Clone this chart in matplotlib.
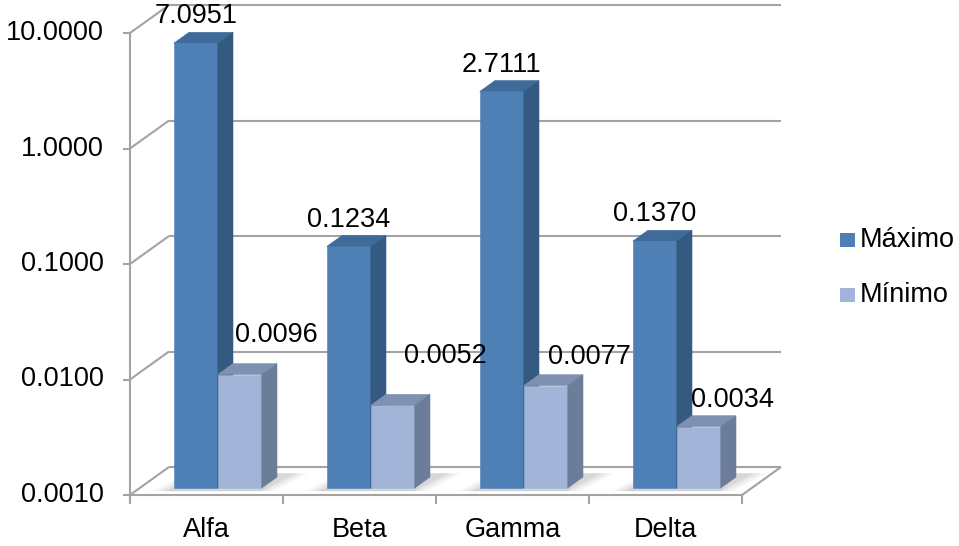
import matplotlib.pyplot as plt
import numpy as np
from matplotlib.patches import Polygon, Rectangle
from matplotlib.lines import Line2D
from matplotlib.transforms import IdentityTransform

categories = ['Alfa', 'Beta', 'Gamma', 'Delta']
maximo = [7.0951, 0.1234, 2.7111, 0.1370]
minimo = [0.0096, 0.0052, 0.0077, 0.0034]
series_names = ['Máximo', 'Mínimo']
y_ticks = [0.001, 0.01, 0.1, 1, 10]

# label nudges (pixels right, pixels above the bar top)
label_dx = [[0, 0, 0, 0], [37, 53, 44, 34]]
label_dy = [[9, 9, 9, 9], [22, 31, 11, 9]]

plt.rcParams['font.family'] = ['Liberation Sans', 'DejaVu Sans']
FS = 19.5
GRID = '#a3a3a3'
faces = [
    {'front': '#4e80b6', 'top': '#3f6b9b', 'side': '#355a82'},
    {'front': '#a2b5d9', 'top': '#7f91b1', 'side': '#6c7d9a'},
]

W, H = 959, 546
fig = plt.figure(figsize=(W / 100, H / 100), dpi=100)
# front plane of the 3d box; the log axis does the value -> pixel mapping
ax = fig.add_axes([130 / W, (H - 495) / H, 612 / W, 462 / H])
ax.set_yscale('log')
ax.set_xlim(0, len(categories))
ax.set_ylim(y_ticks[0], y_ticks[-1])
ax.axis('off')

DEPTH = np.array([39.0, 28.0])  # floor depth in display pixels
NEAR, FAR = 0.25, 0.64          # bar depth inside the box
BAR_W = 44 / 153
CENTER = 0.51
base = y_ticks[0]
ident = IdentityTransform()


def pt(x, v, d=0.0):
    return ax.transData.transform((x, v)) + d * DEPTH


def poly(points, color, z=2, alpha=1.0):
    fig.add_artist(Polygon(points, closed=True, facecolor=color, edgecolor=color,
                           lw=0.4, alpha=alpha, transform=ident, zorder=z))


def line(p, q, z=1):
    fig.add_artist(Line2D([p[0], q[0]], [p[1], q[1]], color=GRID, lw=1.5,
                          transform=ident, zorder=z, solid_capstyle='butt'))


# back wall gridlines and side diagonals
n = len(categories)
for v in y_ticks:
    line(pt(0, v, 1), pt(n, v, 1))
    line(pt(0, v, 0), pt(0, v, 1))
    a = pt(0, v, 0)
    line(a - [7, 0], a)
    fig.text(104, a[1], f'{v:.4f}', ha='right', va='center', fontsize=FS,
             transform=ident)

# front axis, floor edges and category ticks
line(pt(0, base, 0) - [0, 6], pt(0, y_ticks[-1], 0))
line(pt(0, base, 0), pt(n, base, 0))
line(pt(n, base, 0), pt(n, base, 1))
for i in range(n + 1):
    p = pt(i, base, 0)
    line(p, p - [0, 9])
for i, c in enumerate(categories):
    p = pt(i + 0.5, base, 0)
    fig.text(p[0], p[1] - 35, c, ha='center', va='center', fontsize=FS,
             transform=ident)

# soft shadows on the floor
for i in range(n):
    x0 = i + CENTER - BAR_W
    x1 = i + CENTER + BAR_W
    for spread in [0.1, 0.07, 0.045, 0.025, 0.01]:
        poly([pt(x0 - spread, base, NEAR - 0.1), pt(x1 + spread, base, NEAR - 0.1),
              pt(x1 + spread + 0.06, base, FAR + 0.12), pt(x0 - spread + 0.06, base, FAR + 0.12)],
             '#707070', z=1.5, alpha=0.06)

# 3d bars
for i in range(n):
    for s, vals in enumerate([maximo, minimo]):
        v = vals[i]
        x0 = i + CENTER - BAR_W + s * BAR_W
        x1 = x0 + BAR_W
        col = faces[s]
        poly([pt(x0, base, NEAR), pt(x1, base, NEAR), pt(x1, v, NEAR), pt(x0, v, NEAR)],
             col['front'], z=3)
        poly([pt(x0, v, NEAR), pt(x1, v, NEAR), pt(x1, v, FAR), pt(x0, v, FAR)],
             col['top'], z=3)
        poly([pt(x1, base, NEAR), pt(x1, base, FAR), pt(x1, v, FAR), pt(x1, v, NEAR)],
             col['side'], z=3)
        cx = pt((x0 + x1) / 2, v, NEAR)[0]
        ty = pt(x0, v, FAR)[1]
        fig.text(cx + label_dx[s][i], ty + label_dy[s][i], f'{v:.4f}',
                 ha='center', va='baseline', fontsize=FS, transform=ident, zorder=5)

# legend
for s, name in enumerate(series_names):
    yc = H - (240 + 55 * s)
    fig.add_artist(Rectangle((840, yc - 7), 15, 14, facecolor=faces[s]['front'],
                             edgecolor='none', transform=ident))
    fig.text(860, yc, name, ha='left', va='center', fontsize=FS, transform=ident)

fig.savefig('out.png', dpi=100)
